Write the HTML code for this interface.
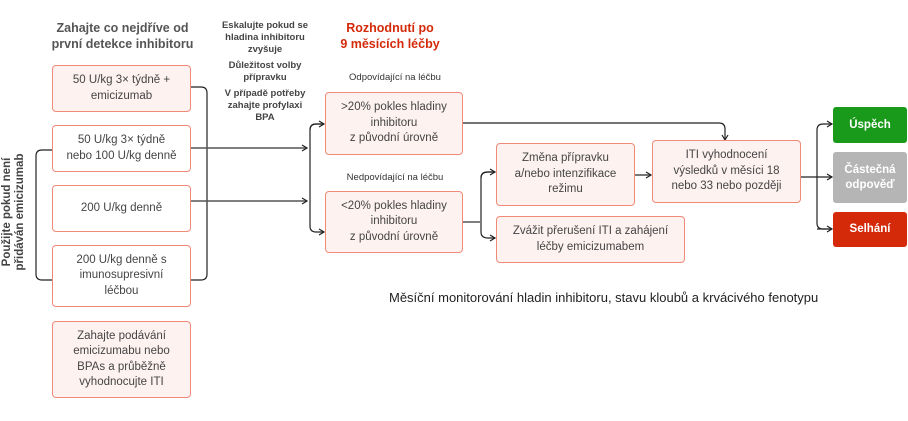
<!DOCTYPE html>
<html><head><meta charset="utf-8"><style>
*{margin:0;padding:0;box-sizing:border-box}
body{width:908px;height:421px;background:#fff;position:relative;overflow:hidden;font-family:"Liberation Sans",sans-serif;color:#444}
.b{position:absolute;border:1.3px solid #ef8a78;border-radius:4px;display:flex;align-items:center;justify-content:center;text-align:center;font-size:11.5px;line-height:15.5px;color:#444}
.p{background:#fdf2f0}
.w{background:#fff}
.t{position:absolute;text-align:center;font-weight:bold}
.o{position:absolute;border-radius:3px;display:flex;align-items:center;justify-content:center;text-align:center;color:#fff;font-size:11.5px;line-height:15px;font-weight:bold}
svg{position:absolute;left:0;top:0}
</style></head><body>
<svg width="908" height="421" fill="none" stroke="#222" stroke-width="1.2">
<defs><marker id="a" markerWidth="8" markerHeight="8" refX="6" refY="4" orient="auto" markerUnits="userSpaceOnUse"><path d="M1,1 L6,4 L1,7" stroke="#222" fill="none" stroke-width="1.2"/></marker></defs>
<path d="M52,150 H42 Q36,150 36,156 V274 Q36,280 42,280 H52"/>
<path d="M191,87 H201 Q207,87 207,93 V274 Q207,280 201,280 H191"/>
<path d="M191,148 H307" stroke="#555" stroke-width="1.6" marker-end="url(#a)"/>
<path d="M191,201 H307" stroke="#555" stroke-width="1.6" marker-end="url(#a)"/>
<path d="M324,124 H316 Q310,124 310,130 V226 Q310,232 316,232 H324" marker-end="url(#a)"/>
<path d="M310,130 Q310,124 316,124 H324" marker-end="url(#a)"/>
<path d="M463,123 H719 Q725,123 725,129 V140" marker-end="url(#a)"/>
<path d="M463,222 H480" stroke="#555" stroke-width="1.6"/>
<path d="M495,172 H488 Q481,172 481,178 V232 Q481,238 488,238 H495" marker-end="url(#a)"/>
<path d="M481,178 Q481,172 488,172 H495" marker-end="url(#a)"/>
<path d="M635,175 H651" stroke="#555" stroke-width="1.6" marker-end="url(#a)"/>
<path d="M801,177 H832" marker-end="url(#a)"/>
<path d="M832,229 H823 Q817,229 817,223 V130 Q817,124 823,124 H832" marker-end="url(#a)"/>
<path d="M817,229 Q817,229 823,229 H832" marker-end="url(#a)"/>
</svg>
<div class="t" style="left:30px;top:20px;width:185px;font-size:12.5px;line-height:16px;color:#555">Zahajte co nejdříve od<br>první detekce inhibitoru</div>
<div class="t" style="left:205px;top:20px;width:120px;font-size:9.5px;line-height:12px;color:#444">Eskalujte pokud se<br>hladina inhibitoru<br>zvyšuje<div style="height:4px"></div>Důležitost volby<br>přípravku<div style="height:4px"></div>V případě potřeby<br>zahajte profylaxi<br>BPA</div>
<div class="t" style="left:320px;top:20px;width:140px;font-size:12.5px;line-height:16px;color:#d42a0a">Rozhodnutí po<br>9 měsících léčby</div>
<div class="t" style="left:320px;top:72px;width:150px;font-size:9.5px;color:#333;font-weight:normal">Odpovídající na léčbu</div>
<div class="t" style="left:320px;top:172px;width:150px;font-size:9.5px;color:#333;font-weight:normal">Nedpovídající na léčbu</div>
<div class="t" style="left:-56px;top:199px;width:140px;font-size:11.5px;line-height:13px;color:#444;transform:rotate(-90deg)">Použijte pokud není<br>přidáván emicizumab</div>
<div class="b p" style="left:52px;top:65px;width:139px;height:47px">50 U/kg 3× týdně +<br>emicizumab</div>
<div class="b w" style="left:52px;top:125px;width:139px;height:47px">50 U/kg 3× týdně<br>nebo 100 U/kg denně</div>
<div class="b w" style="left:52px;top:185px;width:139px;height:47px">200 U/kg denně</div>
<div class="b w" style="left:52px;top:245px;width:139px;height:62px">200 U/kg denně s<br>imunosupresivní<br>léčbou</div>
<div class="b p" style="left:52px;top:321px;width:139px;height:77px">Zahajte podávání<br>emicizumabu nebo<br>BPAs a průběžně<br>vyhodnocujte ITI</div>
<div class="b p" style="left:325px;top:92px;width:138px;height:63px">&gt;20% pokles hladiny<br>inhibitoru<br>z původní úrovně</div>
<div class="b p" style="left:325px;top:191px;width:138px;height:62px">&lt;20% pokles hladiny<br>inhibitoru<br>z původní úrovně</div>
<div class="b p" style="left:496px;top:143px;width:139px;height:63px">Změna přípravku<br>a/nebo intenzifikace<br>režimu</div>
<div class="b p" style="left:496px;top:216px;width:189px;height:47px">Zvážit přerušení ITI a zahájení<br>léčby emicizumabem</div>
<div class="b p" style="left:652px;top:140px;width:149px;height:63px">ITI vyhodnocení<br>výsledků v měsíci 18<br>nebo 33 nebo později</div>
<div class="o" style="left:833px;top:107px;width:74px;height:36px;background:#1a9a1a">Úspěch</div>
<div class="o" style="left:833px;top:152px;width:74px;height:51px;background:#b5b5b5">Částečná<br>odpověď</div>
<div class="o" style="left:833px;top:212px;width:74px;height:35px;background:#d42a0a">Selhání</div>
<div style="position:absolute;left:389px;top:290px;font-size:13px;color:#222;white-space:nowrap">Měsíční monitorování hladin inhibitoru, stavu kloubů a krvácivého fenotypu</div>
</body></html>
